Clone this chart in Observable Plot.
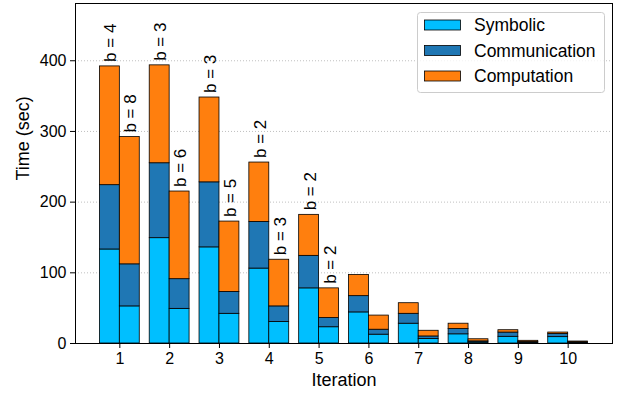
<!DOCTYPE html>
<html>
<head>
<meta charset="utf-8">
<script src="https://cdn.jsdelivr.net/npm/d3@7"></script>
<script src="https://cdn.jsdelivr.net/npm/@observablehq/plot@0.6"></script>
<style>
  body { margin: 0; background: white; }
  #chart { position: relative; width: 621px; height: 394px; }
</style>
</head>
<body>
<div id="chart"></div>
<script>
const iterations = [1, 2, 3, 4, 5, 6, 7, 8, 9, 10];
const series = ["Symbolic", "Communication", "Computation"];
const colors = ["#00bfff", "#1f77b4", "#ff7f0e"];

// left bar of each pair
const symbolicA      = [133, 149, 136, 106, 78, 44, 28, 13, 9.5, 9];
const communicationA = [91, 106, 92, 66, 46, 23, 14, 7.5, 6, 4.5];
const computationA   = [168, 138.5, 120, 84, 58, 30, 15, 7.5, 3.3, 2];
// right bar of each pair
const symbolicB      = [52.5, 49, 42, 30.5, 23, 12.5, 6.5, 1.5, 1, 0.8];
const communicationB = [59.5, 42, 31, 22, 13, 7, 3.5, 1.5, 1, 0.7];
const computationB   = [180, 124, 99.5, 66, 42, 20, 8, 3, 1.8, 1.3];

const labelsA = ["b = 4", "b = 3", "b = 3", "b = 2", "b = 2"];
const labelsB = ["b = 8", "b = 6", "b = 5", "b = 3", "b = 2"];

const yTicks = [0, 100, 200, 300, 400];

const rows = [];
const tops = [];
function addBar(i, side, vals) {
  let base = 0;
  vals.forEach((v, k) => {
    rows.push({it: iterations[i], side, series: series[k], y1: base, y2: base + v});
    base += v;
  });
  tops.push({it: iterations[i], side, top: base});
}
iterations.forEach((it, i) => {
  addBar(i, 0, [symbolicA[i], communicationA[i], computationA[i]]);
  addBar(i, 1, [symbolicB[i], communicationB[i], computationB[i]]);
});
const labelRows = [];
labelsA.forEach((t, i) => labelRows.push({x: iterations[i] - 0.2, y: tops.find(d => d.it === iterations[i] && d.side === 0).top, text: t}));
labelsB.forEach((t, i) => labelRows.push({x: iterations[i] + 0.2, y: tops.find(d => d.it === iterations[i] && d.side === 1).top, text: t}));

const font = "'Liberation Sans', Arial, Helvetica, sans-serif";

const plot = Plot.plot({
  width: 621,
  height: 394,
  marginLeft: 75,
  marginRight: 9,
  marginTop: 3,
  marginBottom: 51,
  style: {fontFamily: font, fontSize: "16px", color: "black", background: "white"},
  x: {type: "linear", domain: [0.11, 10.89]},
  y: {domain: [0, 481]},
  color: {domain: series, range: colors},
  marks: [
    Plot.gridY(yTicks, {stroke: "#b0b0b0", strokeOpacity: 1, strokeDasharray: "1,2", strokeWidth: 0.8}),
    Plot.rect(rows, {
      x1: d => d.side === 0 ? d.it - 0.4 : d.it,
      x2: d => d.side === 0 ? d.it : d.it + 0.4,
      y1: "y1", y2: "y2", fill: "series", stroke: "black", strokeWidth: 0.8
    }),
    Plot.text(labelRows, {x: "x", y: "y", text: "text", rotate: -90, textAnchor: "start", dy: -4.5, dx: 1, fill: "black", fontSize: 17}),
    Plot.axisX(iterations, {tickSize: 5, tickPadding: 4, label: null, tickFormat: d => String(d), fontSize: 16}),
    Plot.axisY(yTicks, {tickSize: 5, tickPadding: 4, label: null, fontSize: 16}),
    Plot.frame({stroke: "black", strokeWidth: 1}),
    Plot.text(["Iteration"], {frameAnchor: "bottom", text: d => d, dy: 42, fill: "black", fontSize: 18}),
    Plot.text(["Time (sec)"], {frameAnchor: "left", text: d => d, rotate: -90, dx: -52, dy: 7, fill: "black", fontSize: 18})
  ]
});

const svg = d3.select(plot);

// legend inside the axes (top right)
const lg = svg.append("g").attr("font-family", font).attr("text-anchor", "start");
lg.append("rect").attr("x", 417.5).attr("y", 12.5).attr("width", 187).attr("height", 80)
  .attr("rx", 3).attr("fill", "white").attr("fill-opacity", 0.8).attr("stroke", "#cccccc");
series.forEach((s, k) => {
  const cy = 25 + k * 25.5;
  lg.append("rect").attr("x", 424.5).attr("y", cy - 5).attr("width", 36).attr("height", 10)
    .attr("fill", colors[k]).attr("stroke", "black").attr("stroke-width", 0.8);
  lg.append("text").attr("x", 474).attr("y", cy).attr("dy", "0.35em").attr("fill", "black")
    .style("font-size", "17.5px").text(s);
});

document.getElementById("chart").appendChild(plot);
</script>
</body>
</html>
